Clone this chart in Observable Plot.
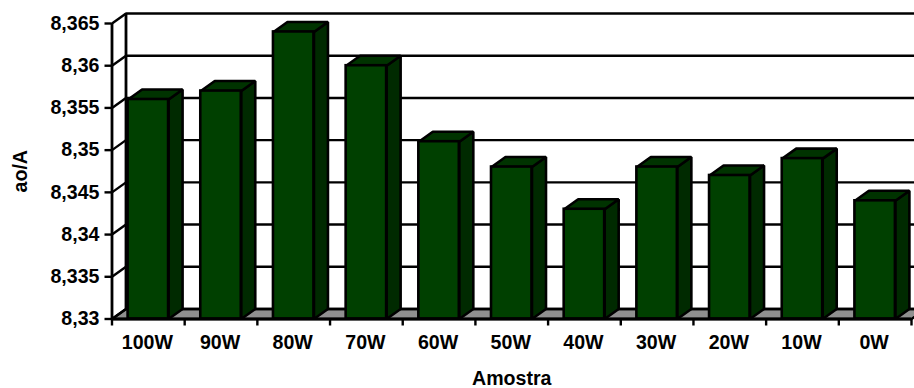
<!DOCTYPE html>
<html>
<head>
<meta charset="utf-8">
<script src="https://cdn.jsdelivr.net/npm/d3@7"></script>
<script src="https://cdn.jsdelivr.net/npm/@observablehq/plot@0.6"></script>
<style>
  html, body { margin: 0; padding: 0; background: #fff; }
  svg { display: block; }
</style>
</head>
<body>
<div id="chart"></div>
<script>
const samples = ["100W", "90W", "80W", "70W", "60W", "50W", "40W", "30W", "20W", "10W", "0W"];
const latticeParameter = [8.356, 8.357, 8.364, 8.36, 8.351, 8.348, 8.343, 8.348, 8.347, 8.349, 8.344];
const yTicks = [8.33, 8.335, 8.34, 8.345, 8.35, 8.355, 8.36, 8.365];

// Frame of the front plane
const W = 914, H = 388;
const M = {left: 111.5, right: 3, top: 23, bottom: 69.5};
const yDomain = [8.33, 8.365];
const xUnit = (W - M.left - M.right) / samples.length;
const yUnit = (H - M.top - M.bottom) / (yDomain[1] - yDomain[0]);

// Oblique depth, converted from pixels to data units
const depthX = 14 / xUnit;
const depthY = 10 / yUnit;
const barWidth = 0.557;

const front = samples.map((s, i) => ({
  s, x1: i + 0.5 - barWidth / 2, x2: i + 0.5 + barWidth / 2, v: latticeParameter[i]
}));
const base = yDomain[0];

const topFaces = front.flatMap((b, id) => [
  {id, x: b.x1, y: b.v},
  {id, x: b.x2, y: b.v},
  {id, x: b.x2 + depthX, y: b.v + depthY},
  {id, x: b.x1 + depthX, y: b.v + depthY}
]);
const sideFaces = front.flatMap((b, id) => [
  {id, x: b.x2, y: base},
  {id, x: b.x2, y: b.v},
  {id, x: b.x2 + depthX, y: b.v + depthY},
  {id, x: b.x2 + depthX, y: base + depthY}
]);
const floor = [
  {x: 0, y: base},
  {x: samples.length, y: base},
  {x: samples.length + depthX, y: base + depthY},
  {x: depthX, y: base + depthY}
];

const edges = {stroke: "#000", strokeWidth: 2.6, strokeLinejoin: "miter"};

const chart = Plot.plot({
  width: W,
  height: H,
  marginLeft: M.left,
  marginRight: M.right,
  marginTop: M.top,
  marginBottom: M.bottom,
  style: {fontFamily: "'Liberation Sans', Arial, sans-serif", fontWeight: "bold", color: "#000", background: "#fff"},
  x: {domain: [0, samples.length]},
  y: {domain: yDomain},
  marks: [
    // Floor and back wall
    Plot.line(floor, {x: "x", y: "y", curve: "linear-closed", fill: "#909090", stroke: "#000", strokeWidth: 2.4}),
    Plot.ruleY(yTicks, {x1: depthX, x2: samples.length + depthX, y: d => d + depthY, stroke: "#000", strokeWidth: 2.4}),
    // Left wall
    Plot.ruleX([depthX], {y1: base + depthY, y2: yDomain[1] + depthY, stroke: "#000", strokeWidth: 2.8}),
    Plot.link(yTicks, {x1: 0, x2: depthX, y1: d => d, y2: d => d + depthY, stroke: "#000", strokeWidth: 2.4}),
    Plot.ruleX([0], {y1: base, y2: yDomain[1], stroke: "#000", strokeWidth: 2.8}),
    // Bars
    Plot.line(sideFaces, {x: "x", y: "y", z: "id", curve: "linear-closed", fill: "#002a00", ...edges}),
    Plot.line(topFaces, {x: "x", y: "y", z: "id", curve: "linear-closed", fill: "#003300", ...edges}),
    Plot.rect(front, {x1: "x1", x2: "x2", y1: base, y2: "v", fill: "#004000", ...edges}),
    Plot.ruleY([base], {x1: 0, x2: samples.length, stroke: "#000", strokeWidth: 2.8}),
    // Axes
    Plot.axisY({
      ticks: yTicks,
      tickSize: 7,
      tickPadding: 5.5,
      strokeWidth: 2.4,
      tickFormat: d => String(+d.toFixed(3)).replace(".", ","),
      label: "ao/A",
      labelAnchor: "center",
      labelArrow: "none",
      labelOffset: 99,
      fontSize: 19.6
    }),
    Plot.axisX({
      ticks: d3.range(samples.length + 1),
      tickSize: 7,
      strokeWidth: 2.4,
      tickFormat: () => "",
      label: null
    }),
    Plot.axisX({
      ticks: d3.range(samples.length).map(i => i + 0.5),
      tickSize: 0,
      tickPadding: 16,
      dx: -1,
      tickFormat: d => samples[Math.floor(d)],
      label: "Amostra",
      labelAnchor: "center",
      labelArrow: "none",
      labelOffset: 66,
      fontSize: 19.6
    })
  ]
});

document.getElementById("chart").appendChild(chart);
</script>
</body>
</html>
